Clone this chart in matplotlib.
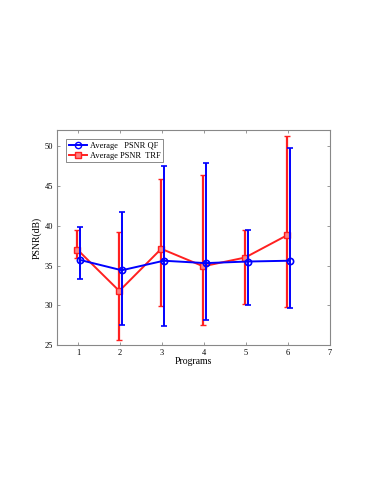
import matplotlib
matplotlib.use("Agg")
import matplotlib.pyplot as plt
from matplotlib.lines import Line2D
import numpy as np

programs = [1, 2, 3, 4, 5, 6]
qf_mean = [35.7, 34.4, 35.6, 35.3, 35.5, 35.6]
qf_low = [33.3, 27.5, 27.4, 28.2, 30.0, 29.7]
qf_high = [39.8, 41.7, 47.5, 47.9, 39.5, 49.8]
trf_mean = [37.0, 31.8, 37.1, 34.9, 36.0, 38.8]
trf_low = [35.9, 25.7, 29.9, 27.5, 30.2, 29.8]
trf_high = [39.4, 39.2, 45.9, 46.4, 39.5, 51.3]

plt.rcParams['font.family'] = ['Liberation Serif', 'DejaVu Serif']

fig = plt.figure(figsize=(3.74, 4.84), dpi=100)
ax = fig.add_axes([0.153, 0.287, 0.729, 0.444])

x = np.array(programs, dtype=float)
qm = np.array(qf_mean); tm = np.array(trf_mean)
qerr = [qm - np.array(qf_low), np.array(qf_high) - qm]
terr = [tm - np.array(trf_low), np.array(trf_high) - tm]

ax.errorbar(x - 0.02, tm, yerr=terr, color='#ff2020', lw=1.4, marker='s',
            ms=4, mfc='#ff8080', mec='#ff2020', mew=1.0, capsize=2.5, capthick=1.4,
            elinewidth=1.6, zorder=2)
ax.errorbar(x + 0.04, qm, yerr=qerr, color='#0000ff', lw=1.4, marker='o',
            ms=4.5, mfc='none', mew=1.2, capsize=2.5, capthick=1.4, elinewidth=1.4,
            zorder=3)

ax.set_xlim(0.5, 7)
ax.set_ylim(25, 52)
ax.set_xticks([1, 2, 3, 4, 5, 6, 7])
ax.set_yticks([25, 30, 35, 40, 45, 50])
ax.tick_params(direction='in', length=2.5, labelsize=6, top=True, right=True,
               color='#888888', width=0.6, pad=3)
for s in ax.spines.values():
    s.set_color('#888888')
    s.set_linewidth(0.8)

ax.set_xlabel('Programs', fontsize=7, labelpad=0)
ax.set_ylabel('PSNR(dB)', fontsize=7, labelpad=2)

handles = [
    Line2D([], [], color='#0000ff', lw=1.4, marker='o', ms=4.5, mfc='none', mew=1.0),
    Line2D([], [], color='#ff2020', lw=1.4, marker='s', ms=4, mfc='#ff8080', mew=1.0),
]
leg = ax.legend(handles, ['Average   PSNR QF', 'Average PSNR  TRF'],
                loc='upper left', fontsize=6, frameon=True, fancybox=False,
                edgecolor='#555555', borderaxespad=1.1, handlelength=2.2,
                borderpad=0.3, labelspacing=0.2, handletextpad=0.3)
leg.get_frame().set_linewidth(0.6)

fig.savefig('out.png', dpi=100)
